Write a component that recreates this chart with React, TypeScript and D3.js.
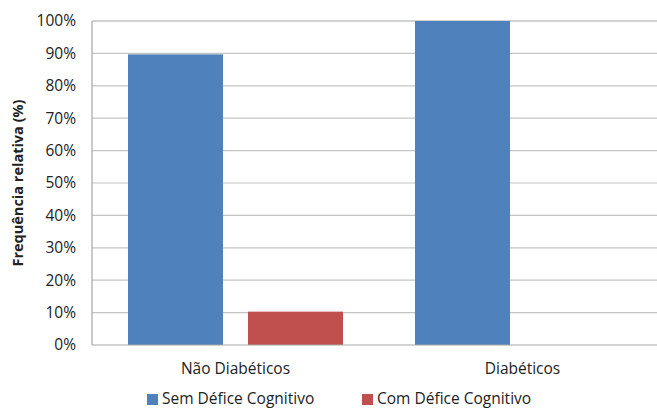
import React from "react";
import * as d3 from "d3";

const categories = ["Não Diabéticos", "Diabéticos"];
const seriesNames = ["Sem Défice Cognitivo", "Com Défice Cognitivo"];
const semDefice = [89.7, 100];
const comDefice = [10.3, 0];
const yTicks = [0, 10, 20, 30, 40, 50, 60, 70, 80, 90, 100];
const colors = ["#4F81BD", "#C0504D"];

const W = 657;
const H = 410;
const FONT = "'Open Sans', 'Liberation Sans', sans-serif";

export default function App() {
  const left = 92;
  const top = 21;
  const bottom = 345;
  const right = 666;

  const x = d3.scaleBand<string>().domain(categories).range([left, right]).padding(0);
  const inner = d3
    .scaleBand<string>()
    .domain(seriesNames)
    .range([0, x.bandwidth()])
    .paddingInner(0.2083)
    .paddingOuter(0.3);
  const y = d3.scaleLinear().domain([0, 100]).range([bottom, top]);
  const seriesValues = [semDefice, comDefice];

  return (
    <svg
      width={W}
      height={H}
      style={{ position: "absolute", left: 0, top: 0, display: "block", background: "#fff" }}
      fontFamily={FONT}
    >
      {yTicks.map((t) => (
        <g key={t}>
          {t > 0 && (
            <line x1={left} x2={W} y1={y(t)} y2={y(t)} stroke={t === 100 ? "#a6a6a6" : "#c4c4c4"} strokeWidth={1.2} />
          )}
          <text x={76} y={y(t)} dy="0.35em" textAnchor="end" fontSize={15.5} fill="#222">
            {t}%
          </text>
        </g>
      ))}
      {categories.map((c, ci) =>
        seriesNames.map((s, si) => {
          const v = seriesValues[si][ci];
          if (v <= 0) return null;
          return (
            <rect
              key={c + s}
              x={(x(c) as number) + (inner(s) as number)}
              y={y(v)}
              width={inner.bandwidth()}
              height={y(0) - y(v)}
              fill={colors[si]}
            />
          );
        })
      )}
      <line x1={left} x2={left} y1={top} y2={bottom} stroke="#a6a6a6" strokeWidth={1.2} />
      <line x1={left} x2={W} y1={bottom} y2={bottom} stroke="#a6a6a6" strokeWidth={1.2} />
      {categories.map((c) => (
        <text
          key={c}
          x={(x(c) as number) + x.bandwidth() / 2}
          y={369}
          dy="0.35em"
          textAnchor="middle"
          fontSize={15.5}
          fill="#222"
        >
          {c}
        </text>
      ))}
      <text
        transform={`translate(18, 183) rotate(-90)`}
        textAnchor="middle"
        dy="0.35em"
        fontSize={14.5}
        fontWeight="bold"
        fill="#222"
      >
        Frequência relativa (%)
      </text>
      {seriesNames.map((s, i) => {
        const lx = [147, 362][i];
        return (
          <g key={s}>
            <rect x={lx} y={394} width={11} height={11} fill={colors[i]} />
            <text x={lx + 15} y={399} dy="0.35em" fontSize={15.5} fill="#222">
              {s}
            </text>
          </g>
        );
      })}
    </svg>
  );
}
